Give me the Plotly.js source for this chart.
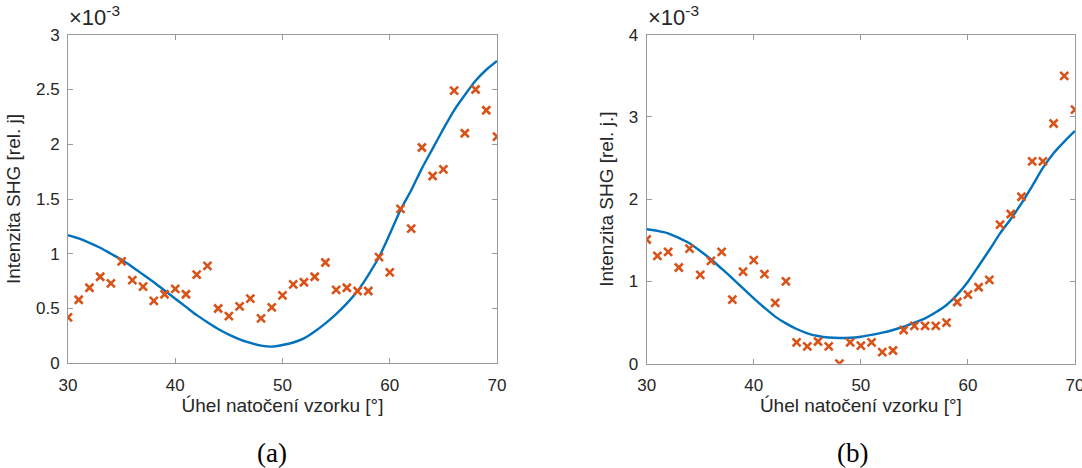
<!DOCTYPE html>
<html>
<head>
<meta charset="utf-8">
<script src="https://cdn.plot.ly/plotly-3.0.1.min.js"></script>
<style>html,body{margin:0;padding:0;background:#fff;}#chart{width:1082px;height:468px;}</style>
</head>
<body>
<div id="chart"></div>
<script>
// Angles (degrees)
const angles = [30,31,32,33,34,35,36,37,38,39,40,41,42,43,44,45,46,47,48,49,50,51,52,53,54,55,56,57,58,59,60,61,62,63,64,65,66,67,68,69,70];

// Panel (a): measured SHG intensity (x10^-3)
const measA = [0.42,0.58,0.69,0.79,0.73,0.93,0.76,0.70,0.57,0.63,0.68,0.63,0.81,0.89,0.50,0.43,0.52,0.59,0.41,0.51,0.62,0.72,0.74,0.79,0.92,0.67,0.69,0.66,0.66,0.97,0.83,1.41,1.23,1.97,1.71,1.77,2.49,2.10,2.50,2.31,2.07];
// Panel (a): fitted curve (x10^-3)
const fitA = [1.17,1.14,1.10,1.055,1.00,0.945,0.88,0.81,0.74,0.665,0.59,0.515,0.44,0.375,0.313,0.262,0.219,0.186,0.161,0.152,0.167,0.19,0.228,0.29,0.365,0.45,0.547,0.66,0.806,0.97,1.18,1.40,1.58,1.78,1.96,2.14,2.31,2.45,2.58,2.68,2.76];

// Panel (b): measured SHG intensity (x10^-3)
const measB = [1.51,1.31,1.36,1.17,1.40,1.08,1.25,1.36,0.78,1.12,1.26,1.09,0.74,1.00,0.26,0.21,0.27,0.21,0.00,0.26,0.22,0.26,0.14,0.16,0.41,0.46,0.46,0.46,0.50,0.75,0.84,0.93,1.02,1.69,1.82,2.03,2.46,2.46,2.92,3.50,3.09];
// Panel (b): fitted curve (x10^-3)
const fitB = [1.634,1.615,1.585,1.53,1.464,1.37,1.27,1.155,1.038,0.915,0.795,0.68,0.572,0.49,0.422,0.37,0.337,0.318,0.312,0.315,0.328,0.35,0.377,0.41,0.45,0.50,0.552,0.625,0.714,0.84,0.997,1.188,1.382,1.585,1.76,1.95,2.16,2.38,2.56,2.70,2.83];

const xTicks = [30,40,50,60,70];
const yTicksA = [0,0.5,1,1.5,2,2.5,3];
const yTicksB = [0,1,2,3,4];

const xTitle = 'Úhel natočení vzorku [°]';
const yTitleA = 'Intenzita SHG [rel. j]';
const yTitleB = 'Intenzita SHG [rel. j.]';

const blue = '#0072BD', orange = '#D95319';
const markerStyle = {symbol:'x-thin', size:8, color:orange, line:{color:orange, width:2.6}};
const fitLine = {color:blue, width:2.4, shape:'spline', smoothing:0.6};

const traces = [
  {x:angles, y:fitA, mode:'lines', line:fitLine, xaxis:'x', yaxis:'y', hoverinfo:'skip'},
  {x:angles, y:measA, mode:'markers', marker:markerStyle, xaxis:'x', yaxis:'y'},
  {x:angles, y:fitB, mode:'lines', line:fitLine, xaxis:'x2', yaxis:'y2', hoverinfo:'skip'},
  {x:angles, y:measB, mode:'markers', marker:markerStyle, xaxis:'x2', yaxis:'y2'}
];

const W = 1082, H = 468;
const fx = p => p / W, fy = p => 1 - p / H;
const FONT = 'Liberation Sans, Arial, sans-serif';
const axCommon = {
  showgrid:false, zeroline:false, showline:true, linecolor:'#9a9a9a', linewidth:1,
  mirror:'ticks', ticks:'inside', ticklen:5, tickcolor:'#9a9a9a',
  ticklabeloverflow:'allow',
  tickfont:{family:FONT, size:17, color:'#262626'}
};
const titleFont = {family:FONT, size:19, color:'#262626'};

const layout = {
  width:W, height:H, showlegend:false,
  paper_bgcolor:'#fff', plot_bgcolor:'#fff',
  margin:{l:0, r:0, t:0, b:0},
  xaxis: Object.assign({}, axCommon, {domain:[fx(68), fx(497)], range:[30,70], tickvals:xTicks, ticktext:xTicks.map(String), anchor:'y',
    ticklabelstandoff:6, title:{text:xTitle, font:titleFont, standoff:4}}),
  yaxis: Object.assign({}, axCommon, {domain:[fy(363.3), fy(34.7)], range:[0,3], tickvals:yTicksA, ticktext:yTicksA.map(String), anchor:'x',
    ticklabelstandoff:4, title:{text:yTitleA, font:titleFont, standoff:10}}),
  xaxis2: Object.assign({}, axCommon, {domain:[fx(646.7), fx(1075)], range:[30,70], tickvals:xTicks, ticktext:xTicks.map(String), anchor:'y2',
    ticklabelstandoff:6, title:{text:xTitle, font:titleFont, standoff:4}}),
  yaxis2: Object.assign({}, axCommon, {domain:[fy(363.7), fy(34.7)], range:[0,4], tickvals:yTicksB, ticktext:yTicksB.map(String), anchor:'x2',
    ticklabelstandoff:4, title:{text:yTitleB, font:titleFont, standoff:10}}),
  annotations:[
    {xref:'paper', yref:'paper', x:fx(67), y:fy(32), xanchor:'left', yanchor:'bottom', showarrow:false,
     text:'×10<sup>-3</sup>', font:{family:FONT, size:22, color:'#262626'}},
    {xref:'paper', yref:'paper', x:fx(646), y:fy(32), xanchor:'left', yanchor:'bottom', showarrow:false,
     text:'×10<sup>-3</sup>', font:{family:FONT, size:22, color:'#262626'}},
    {xref:'paper', yref:'paper', x:fx(272), y:fy(453), xanchor:'center', yanchor:'middle', showarrow:false,
     text:'(a)', font:{family:'Liberation Serif, serif', size:27, color:'#000'}},
    {xref:'paper', yref:'paper', x:fx(852), y:fy(453), xanchor:'center', yanchor:'middle', showarrow:false,
     text:'(b)', font:{family:'Liberation Serif, serif', size:27, color:'#000'}}
  ]
};

Plotly.newPlot('chart', traces, layout, {displayModeBar:false, staticPlot:true});
</script>
</body>
</html>
